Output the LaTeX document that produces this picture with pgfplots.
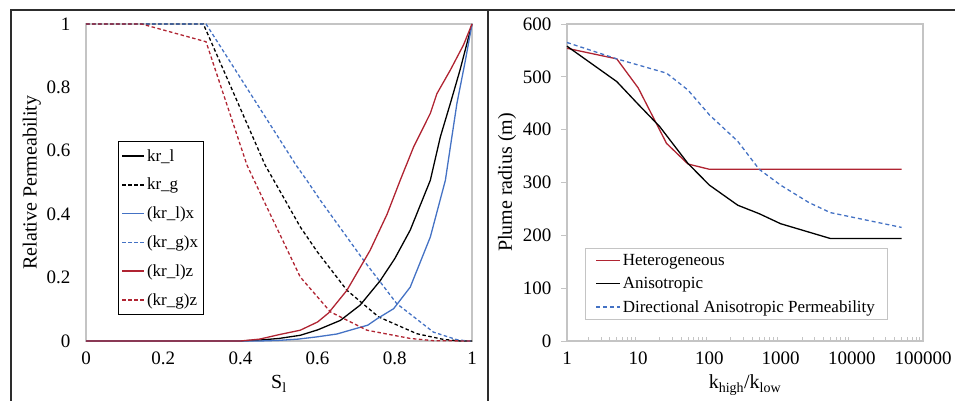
\documentclass[border=0pt]{standalone}
\usepackage{fontspec}
\setmainfont{Liberation Serif}
\usepackage{pgfplots}
\pgfplotsset{compat=1.18}
\definecolor{cred}{RGB}{176,36,50}
\definecolor{cblue}{RGB}{68,114,196}
\definecolor{axgray}{RGB}{196,196,196}
\definecolor{frm}{RGB}{45,45,45}
\pgfplotsset{
  common/.style={
    scale only axis,
    axis line style={axgray, line width=1.2pt},
    tick label style={font=\fontsize{19}{19}\selectfont},
    /pgf/number format/assume math mode=true,
    legend cell align=left,
    clip=false,
  },
}
\begin{document}
\begin{tikzpicture}[x=1pt,y=1pt]
\useasboundingbox (0,0) rectangle (955,401);
\draw[frm, line width=1.5pt] (11,0) -- (11,391) -- (955,391);
\draw[frm, line width=1.5pt] (488,0) -- (488,391);

% ---------------- left panel ----------------
\begin{axis}[common,
  at={(86pt,60pt)}, anchor=south west,
  width=386pt, height=317pt,
  xmin=0, xmax=1, ymin=0, ymax=1,
  xtick={0,0.2,0.4,0.6,0.8,1}, xticklabels={0,0.2,0.4,0.6,0.8,1},
  ytick={0,0.2,0.4,0.6,0.8,1}, yticklabels={0,0.2,0.4,0.6,0.8,1},
  tick style={draw=none},
  xticklabel style={yshift=-7pt},
  yticklabel style={xshift=-12pt},
  xlabel={S\textsubscript{l}},
  ylabel={Relative Permeability},
  xlabel style={at={(axis description cs:0.5,0)}, anchor=base, yshift=-48pt, font=\fontsize{20}{20}\selectfont},
  ylabel style={at={(axis description cs:-0.14,0.5)}, anchor=center, font=\fontsize{20}{20}\selectfont},
  legend style={at={(axis description cs:0.083,0.082)}, anchor=south west, draw=black, line width=0.8pt,
    font=\fontsize{17}{17}\selectfont, row sep=11.5pt, inner xsep=3pt, inner ysep=6pt},
  legend image code/.code={\draw[#1, line width=1.6pt] (0pt,0pt) -- (22pt,0pt);},
]
\addplot[draw=black, line width=1.3pt] coordinates {(0,0) (0.4,0) (0.45,0.003) (0.5,0.008) (0.555,0.018) (0.6,0.035) (0.659,0.065) (0.71,0.113) (0.762,0.19) (0.8,0.26) (0.84,0.35) (0.892,0.507) (0.918,0.644) (0.944,0.75) (0.969,0.855) (1,1)};
\addlegendentry{kr\_l}
\addplot[draw=black, line width=1.3pt, dash pattern=on 3.5pt off 2.5pt] coordinates {(0,1) (0.304,1) (0.4,0.733) (0.464,0.555) (0.516,0.444) (0.555,0.36) (0.6,0.28) (0.676,0.16) (0.758,0.076) (0.857,0.023) (0.926,0.005) (0.97,0) (1,0)};
\addlegendentry{kr\_g}
\addplot[draw=cblue, line width=1.3pt] coordinates {(0,0) (0.45,0) (0.5,0.002) (0.55,0.006) (0.598,0.013) (0.65,0.022) (0.684,0.034) (0.73,0.05) (0.754,0.07) (0.797,0.102) (0.84,0.17) (0.892,0.328) (0.931,0.507) (0.944,0.613) (0.961,0.75) (0.983,0.886) (1,1)};
\addlegendentry{(kr\_l)x}
\addplot[draw=cblue, line width=1.3pt, dash pattern=on 3.5pt off 2.5pt] coordinates {(0,1) (0.311,1) (0.544,0.555) (0.572,0.507) (0.607,0.444) (0.719,0.255) (0.805,0.118) (0.9,0.028) (0.961,0.004) (0.99,0) (1,0)};
\addlegendentry{(kr\_g)x}
\addplot[draw=cred, line width=1.3pt] coordinates {(0,0) (0.4,0) (0.45,0.006) (0.5,0.02) (0.555,0.034) (0.6,0.06) (0.628,0.088) (0.676,0.16) (0.736,0.286) (0.78,0.4) (0.814,0.507) (0.849,0.613) (0.892,0.718) (0.909,0.78) (0.944,0.855) (0.978,0.934) (1,1)};
\addlegendentry{(kr\_l)z}
\addplot[draw=cred, line width=1.3pt, dash pattern=on 3.5pt off 2.5pt] coordinates {(0,1) (0.144,1) (0.311,0.944) (0.417,0.555) (0.46,0.444) (0.555,0.202) (0.633,0.092) (0.728,0.034) (0.84,0.008) (0.9,0.001) (1,0)};
\addlegendentry{(kr\_g)z}
\end{axis}

% ---------------- right panel ----------------
\begin{axis}[common,
  at={(567pt,60pt)}, anchor=south west,
  width=356pt, height=317pt,
  xmode=log, xmin=1, xmax=100000, ymin=0, ymax=600,
  xtick={1,10,100,1000,10000,100000}, xticklabels={1,10,100,1000,10000,100000},
  minor xtick={2,3,4,5,6,7,8,9,20,30,40,50,60,70,80,90,200,300,400,500,600,700,800,900,2000,3000,4000,5000,6000,7000,8000,9000,20000,30000,40000,50000,60000,70000,80000,90000},
  ytick={0,100,200,300,400,500,600},
  major x tick style={draw=none},
  minor x tick style={axgray, line width=0.8pt},
  minor tick length=4pt,
  major tick length=6pt,
  xtick align=inside,
  ytick align=outside,
  ytick pos=left,
  xtick pos=bottom,
  major y tick style={axgray, line width=0.8pt},
  xticklabel style={yshift=-7pt},
  yticklabel style={xshift=-6pt},
  xlabel={k\textsubscript{high}/k\textsubscript{low}},
  ylabel={Plume radius (m)},
  xlabel style={at={(axis description cs:0.5,0)}, anchor=base, yshift=-48pt, font=\fontsize{20}{20}\selectfont},
  ylabel style={at={(axis description cs:-0.1685,0.5)}, anchor=center, font=\fontsize{20}{20}\selectfont},
  legend style={at={(axis description cs:0.05,0.066)}, anchor=south west, draw=axgray, line width=0.8pt,
    font=\fontsize{17}{17}\selectfont, row sep=6.5pt, inner xsep=10pt, inner ysep=4pt},
  legend image code/.code={\draw[#1, line width=1.6pt] (0pt,0pt) -- (24pt,0pt);},
]
\addplot[draw=cred, line width=1.3pt] coordinates {(1,554) (5,534) (10,479) (25,374) (50,335) (100,325) (1000,325) (50000,325)};
\addlegendentry{Heterogeneous}
\addplot[draw=black, line width=1.3pt] coordinates {(1,558) (5,491) (10,448) (20,406) (50,336) (100,295) (250,257) (500,241) (1000,222) (5000,194) (50000,194)};
\addlegendentry{Anisotropic}
\addplot[draw=cblue, line width=1.3pt, dash pattern=on 4pt off 3pt] coordinates {(1,565) (5,534) (25,507) (50,475) (100,428) (250,378) (500,325) (1000,295) (2500,262) (5000,243) (50000,215)};
\addlegendentry{Directional Anisotropic Permeability}
\end{axis}
\end{tikzpicture}
\end{document}
